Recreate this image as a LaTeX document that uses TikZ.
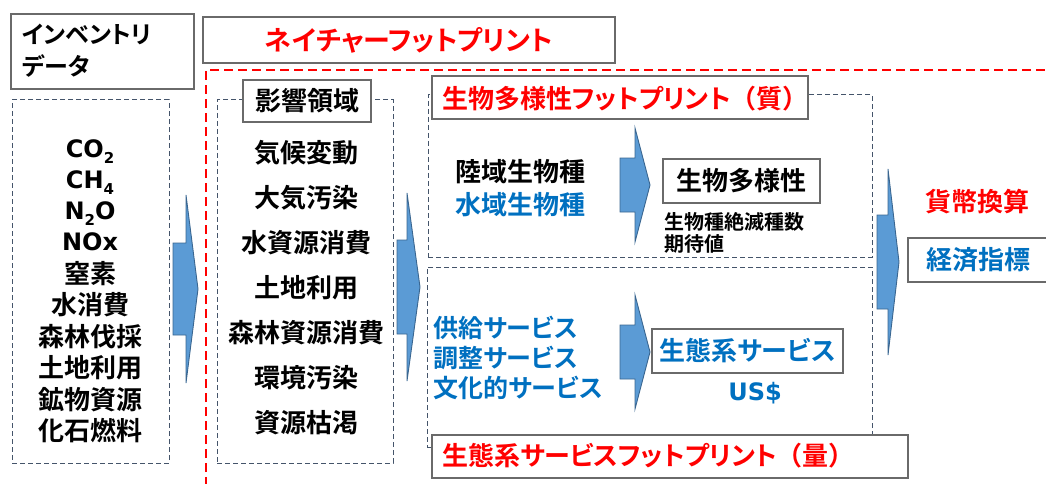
\documentclass[tikz,border=0pt]{standalone}
\usepackage{fontspec}
\newfontfamily\jp{Noto Sans CJK JP}[BoldFont={Noto Sans CJK JP Bold},RawFeature=+palt]
\newfontfamily\jpw{Noto Sans CJK JP}[BoldFont={Noto Sans CJK JP Bold}]
\newfontfamily\lat{DejaVu Sans}
\newcommand\fsz[1]{\fontsize{#1}{#1}\selectfont}
\newcommand\subn[1]{\raisebox{-6pt}{\fsz{15}#1}}
\definecolor{jblue}{HTML}{0070C0}
\definecolor{jred}{HTML}{FF0000}
\definecolor{dashblue}{HTML}{44546A}
\definecolor{boxgray}{HTML}{6A6A6A}
\definecolor{afill}{HTML}{5B9BD5}
\definecolor{aline}{HTML}{3A6690}
\newcommand\blkarrow[6]{%
  \draw[blockarr] (#1,#4-#5) -- (#2,#4-#5) -- (#2,#4-#6) -- (#3,#4) -- (#2,#4+#6) -- (#2,#4+#5) -- (#1,#4+#5) -- cycle;}
\tikzset{
  tx/.style={inner sep=0pt},
  j27/.style={tx, text height=23.8pt, text depth=3.2pt, font=\jp\bfseries\fsz{27}},
  j26/.style={tx, text height=22.9pt, text depth=3.1pt, font=\jp\bfseries\fsz{26}},
  j24/.style={tx, text height=21.1pt, text depth=2.9pt, font=\jp\bfseries\fsz{24}},
  j25/.style={tx, text height=22pt, text depth=3pt, font=\jp\bfseries\fsz{25}},
  j20/.style={tx, text height=17.6pt, text depth=2.4pt, font=\jp\bfseries\fsz{20}},
  l24/.style={tx, text height=20.8pt, text depth=3.2pt, font=\lat\bfseries\fsz{24}},
  box/.style={draw=boxgray, line width=1.1pt, fill=white},
  dbox/.style={draw=dashblue, line width=1pt, dash pattern=on 5pt off 3pt, inner sep=0pt},
  reddash/.style={draw=jred, line width=2.8pt, dash pattern=on 9pt off 5pt},
  blockarr/.style={fill=afill, draw=aline, line width=0.9pt, line join=miter},
}
\begin{document}
\begin{tikzpicture}[x=1pt,y=-1pt]
\useasboundingbox (0,0) rectangle (1046,484);
\clip (0,0) rectangle (1046,484);

% red dashed region
\draw[reddash] (206,500) -- (206,70) -- (1060,70);

% inventory
\node[box, minimum width=183pt, minimum height=75pt] (inv) at (102.5,51.5) {};
\node[j24, anchor=west] (inv1) at (22,34) {インベントリ};
\node[j24, anchor=west] (inv2) at (22,66) {データ};

% nature footprint title
\node[box, j27, text=jred, minimum width=412pt, minimum height=46pt] (nf) at (409,40) {ネイチャーフットプリント};

% left dashed box
\node[dbox, minimum width=157pt, minimum height=363pt] (lbox) at (90.5,281.5) {};
\node[l24] (l1) at (90,149) {CO\subn{2}};
\node[l24] (l2) at (90,180) {CH\subn{4}};
\node[l24] (l3) at (90,211) {N\subn{2}O};
\node[l24] (l4) at (90,242) {NOx};
\node[j26] (l5) at (90,274) {窒素};
\node[j26] (l6) at (90,305) {水消費};
\node[j26] (l7) at (90,337) {森林伐採};
\node[j26] (l8) at (90,368) {土地利用};
\node[j26] (l9) at (90,400) {鉱物資源};
\node[j26] (l10) at (90,431) {化石燃料};

% impact box
\node[dbox, minimum width=176pt, minimum height=363pt] (ibox) at (305,281.5) {};
\node[box, j26, minimum width=128pt, minimum height=42pt] (ititle) at (307,101) {影響領域};
\node[j26] (m1) at (306,153) {気候変動};
\node[j26] (m2) at (306,198) {大気汚染};
\node[j26] (m3) at (306,243) {水資源消費};
\node[j26] (m4) at (306,288) {土地利用};
\node[j26] (m5) at (306,333) {森林資源消費};
\node[j26] (m6) at (306,378) {環境汚染};
\node[j26] (m7) at (306,423) {資源枯渇};

% biodiversity box
\node[dbox, minimum width=444pt, minimum height=162pt] (bbox) at (650,176) {};
\node[box, minimum width=376pt, minimum height=43pt] (btitle) at (620,97.5) {};
\node[j26, anchor=west, text=jred] (btxt) at (442,99) {生物多様性フットプリント{\jpw（質）}};
\node[j26, anchor=west] (b1) at (455,172) {陸域生物種};
\node[j26, anchor=west, text=jblue] (b2) at (455,205) {水域生物種};
\node[box, j26, minimum width=157pt, minimum height=44pt] (bres) at (741.5,181) {生物多様性};
\node[j20, anchor=west] (bn1) at (664,221.5) {生物種絶滅種数};
\node[j20, anchor=west] (bn2) at (664,244) {期待値};

% ecosystem box
\node[dbox, minimum width=445pt, minimum height=180pt] (ebox) at (649.5,357) {};
\node[box, minimum width=476pt, minimum height=43pt] (etitle) at (670,456.5) {};
\node[j26, anchor=west, text=jred] (etxt) at (442,456) {生態系サービスフットプリント{\jpw（量）}};
\node[j25, anchor=west, text=jblue] (e1) at (433,328) {供給サービス};
\node[j25, anchor=west, text=jblue] (e2) at (433,358) {調整サービス};
\node[j25, anchor=west, text=jblue] (e3) at (433,388) {文化的サービス};
\node[box, j26, text=jblue, minimum width=191pt, minimum height=44pt] (eres) at (747.5,351) {生態系サービス};
\node[l24, text=jblue] (usd) at (755,392) {US\$};

% right side
\node[j26, text=jred] (money) at (977,202) {貨幣換算};
\node[box, j26, text=jblue, minimum width=140pt, minimum height=44pt] (econ) at (978,260) {経済指標};

% block arrows
\blkarrow{173}{186}{198}{289}{46}{94}
\blkarrow{397}{407}{420}{287}{47}{94}
\blkarrow{620}{635}{650}{185}{27}{57}
\blkarrow{620}{635}{650}{352}{27}{57}
\blkarrow{877}{888}{899}{262}{47}{93}
\end{tikzpicture}
\end{document}
